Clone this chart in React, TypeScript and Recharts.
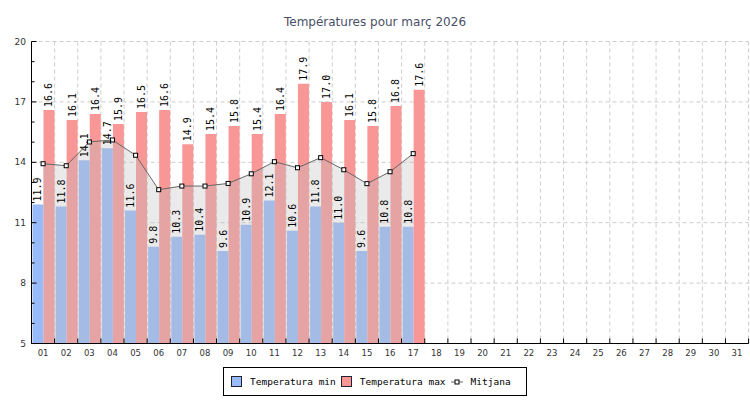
import React from 'react';
import {
  ComposedChart,
  Bar,
  Area,
  XAxis,
  YAxis,
  CartesianGrid,
  LabelList,
} from 'recharts';

const days = [
  '01', '02', '03', '04', '05', '06', '07', '08', '09', '10',
  '11', '12', '13', '14', '15', '16', '17', '18', '19', '20',
  '21', '22', '23', '24', '25', '26', '27', '28', '29', '30', '31',
];

const tempMin = [11.9, 11.8, 14.1, 14.7, 11.6, 9.8, 10.3, 10.4, 9.6, 10.9, 12.1, 10.6, 11.8, 11.0, 9.6, 10.8, 10.8];
const tempMax = [16.6, 16.1, 16.4, 15.9, 16.5, 16.6, 14.9, 15.4, 15.8, 15.4, 16.4, 17.9, 17.0, 16.1, 15.8, 16.8, 17.6];
const mitjana = [13.93, 13.83, 15.01, 15.11, 14.35, 12.64, 12.82, 12.82, 12.95, 13.43, 14.03, 13.73, 14.23, 13.63, 12.94, 13.53, 14.43];

const yTicks = [5, 6, 7, 8, 9, 10, 11, 12, 13, 14, 15, 16, 17, 18, 19, 20];
const yMajor = [5, 8, 11, 14, 17, 20];

const data = days.map((d, i) => ({
  day: d,
  min: tempMin[i] ?? null,
  max: tempMax[i] ?? null,
  mean: mitjana[i] ?? null,
}));

const W = 750;
const H = 400;
const PLOT_LEFT = 31.5;
const PLOT_RIGHT = 748.6;
const PLOT_TOP = 41.5;
const PLOT_BOTTOM = 343.5;
const PLOT_W = PLOT_RIGHT - PLOT_LEFT;
const PLOT_H = PLOT_BOTTOM - PLOT_TOP;
const STEP = PLOT_W / days.length;

const BLUE = '#98baf8';
const RED = '#f99797';
const MONO = '"DejaVu Sans Mono", monospace';
const SANS = '"DejaVu Sans", sans-serif';

const gridH = [8, 11, 14, 17, 20].map((v) => PLOT_TOP + ((20 - v) / 15) * PLOT_H);
const gridV = days.map((_, i) => PLOT_LEFT + (i + 1) * STEP);

function ValueLabel(props: any) {
  const { x, y, width, value } = props;
  if (value == null) return null;
  const cx = Number(x) + Number(width) / 2;
  const cy = Number(y) - 3;
  return (
    <text
      x={cx}
      y={cy}
      transform={`rotate(-90 ${cx} ${cy})`}
      textAnchor="start"
      dominantBaseline="central"
      fontFamily={MONO}
      fontSize={10}
      fill="#000"
    >
      {Number(value).toFixed(1)}
    </text>
  );
}

function SquareDot(props: any) {
  const { cx, cy, value } = props;
  if (cx == null || cy == null || value == null) return null;
  return <rect x={cx - 2} y={cy - 2} width={4} height={4} fill="#fff" stroke="#000" strokeWidth={1} />;
}

function XTick(props: any) {
  const { x, y, payload, index } = props;
  const left = x - STEP / 2;
  return (
    <g>
      <line x1={left} x2={left} y1={PLOT_BOTTOM - 5} y2={PLOT_BOTTOM} stroke="#000" />
      {index === days.length - 1 && (
        <line x1={x + STEP / 2} x2={x + STEP / 2} y1={PLOT_BOTTOM - 5} y2={PLOT_BOTTOM} stroke="#000" />
      )}
      <text x={x} y={PLOT_BOTTOM + 12} textAnchor="middle" fontFamily={SANS} fontSize={8.5} fill="#333">
        {payload.value}
      </text>
    </g>
  );
}

function YTick(props: any) {
  const { y, payload } = props;
  const major = yMajor.includes(payload.value);
  return (
    <g>
      <line x1={PLOT_LEFT} x2={PLOT_LEFT + (major ? 5 : 3)} y1={y} y2={y} stroke="#000" />
      {major && (
        <text x={26} y={y} textAnchor="end" dominantBaseline="central" fontFamily={SANS} fontSize={9} fill="#333">
          {payload.value}
        </text>
      )}
    </g>
  );
}

function LegendBox() {
  const item = { display: 'flex', alignItems: 'center' } as const;
  const sq = (c: string) => ({
    width: 9,
    height: 9,
    background: c,
    border: '1px solid #223',
    marginRight: 8,
  });
  return (
    <div
      style={{
        position: 'absolute',
        left: 223,
        top: 367,
        width: 304,
        height: 29,
        boxSizing: 'border-box',
        border: '1px solid #000',
        background: '#fff',
        display: 'flex',
        alignItems: 'center',
        paddingLeft: 7,
        fontFamily: MONO,
        fontSize: 9.5,
        color: '#000',
      }}
    >
      <div style={item}>
        <div style={sq(BLUE)} />
        <span>Temperatura min</span>
      </div>
      <div style={{ ...item, marginLeft: 5 }}>
        <div style={sq(RED)} />
        <span>Temperatura max</span>
      </div>
      <div style={{ ...item, marginLeft: 5 }}>
        <svg width={12} height={8} style={{ marginRight: 8 }}>
          <line x1={0} x2={12} y1={4} y2={4} stroke="#666" />
          <rect x={4} y={2} width={4} height={4} fill="#fff" stroke="#000" />
        </svg>
        <span>Mitjana</span>
      </div>
    </div>
  );
}

export default function App() {
  return (
    <div style={{ position: 'absolute', left: 0, top: 0, width: W, height: H, background: '#fff' }}>
      <div
        style={{
          position: 'absolute',
          left: 0,
          top: 15,
          width: W,
          textAlign: 'center',
          fontFamily: SANS,
          fontSize: 12,
          color: '#4a5068',
        }}
      >
        Températures pour març 2026
      </div>
      <ComposedChart
        width={W}
        height={H}
        data={data}
        margin={{ top: PLOT_TOP, right: W - PLOT_RIGHT, left: 0, bottom: H - PLOT_BOTTOM - 16 }}
        barCategoryGap={1}
        barGap={0}
      >
        <CartesianGrid
          stroke="#cccccc"
          strokeDasharray="4 3"
          horizontalPoints={gridH}
          verticalPoints={gridV}
        />
        <XAxis
          dataKey="day"
          height={16}
          interval={0}
          tickLine={false}
          axisLine={{ stroke: '#000' }}
          tick={<XTick />}
        />
        <YAxis
          type="number"
          domain={[5, 20]}
          ticks={yTicks}
          interval={0}
          width={PLOT_LEFT}
          tickLine={false}
          axisLine={{ stroke: '#000' }}
          tick={<YTick />}
        />
        <Bar dataKey="min" fill={BLUE} isAnimationActive={false}>
          <LabelList dataKey="min" content={<ValueLabel />} />
        </Bar>
        <Bar dataKey="max" fill={RED} isAnimationActive={false}>
          <LabelList dataKey="max" content={<ValueLabel />} />
        </Bar>
        <Area
          dataKey="mean"
          type="linear"
          stroke="#666"
          strokeWidth={1}
          fill="#bebebe"
          fillOpacity={0.32}
          dot={<SquareDot />}
          activeDot={false}
          zIndex={350}
          isAnimationActive={false}
        />
      </ComposedChart>
      <LegendBox />
    </div>
  );
}
